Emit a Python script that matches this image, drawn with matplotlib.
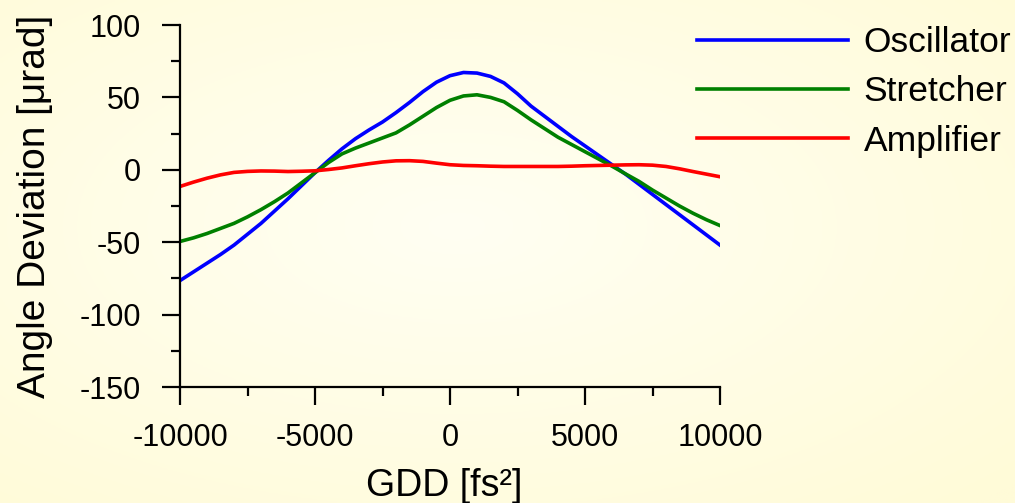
import numpy as np
import matplotlib
matplotlib.use("Agg")
import matplotlib.pyplot as plt
from matplotlib.ticker import MultipleLocator

plt.rcParams['font.family'] = ['Liberation Sans', 'DejaVu Sans']
plt.rcParams['axes.unicode_minus'] = False

# ---- data ----
gdd = list(range(-10000, 10001, 500))
oscillator = [-76.5, -70.5, -64.5, -58.5, -52, -44.5, -37, -28.5, -20, -11,
              -2, 6.5, 14.5, 21.5, 27.5, 33, 39.5, 46.5, 54, 60.5,
              65, 67.2, 66.8, 64.5, 60, 52.5, 44, 37, 30, 23,
              16.5, 10, 3.5, -3, -10, -17, -24, -31, -38, -45, -52]
stretcher = [-49.5, -47, -44, -40.5, -37, -32.5, -27.5, -22, -16, -9,
             -2, 5, 11, 15, 18.5, 22, 25.5, 31, 37, 43,
             48, 51, 51.8, 50, 47, 41, 34.5, 28.5, 22.5, 17.5,
             12.5, 7.5, 2.5, -2.8, -8, -14, -19.5, -25, -30, -34.5, -38.5]
amplifier = [-11.5, -8.5, -5.8, -3.5, -1.8, -1.1, -0.8, -0.9, -1.2, -1.0,
             -0.7, 0.2, 1.3, 2.8, 4.2, 5.4, 6.2, 6.3, 5.8, 4.6,
             3.5, 3.0, 2.8, 2.5, 2.3, 2.3, 2.3, 2.3, 2.3, 2.5,
             2.8, 3.0, 3.2, 3.4, 3.5, 3.2, 2.3, 0.7, -1.2, -3.0, -4.8]
series_names = ["Oscillator", "Stretcher", "Amplifier"]
series_colors = ["#0000FF", "#008000", "#FF0000"]

W, H = 1015, 503
fig = plt.figure(figsize=(W / 100, H / 100), dpi=100)

# background with a gentle vignette
bg = fig.add_axes([0, 0, 1, 1], zorder=-10)
yy, xx = np.mgrid[0:1:200j, 0:1:400j]
r = np.sqrt(((xx - 0.45) / 0.75) ** 2 + ((yy - 0.45) / 0.75) ** 2)
r = np.clip(r, 0, 1)
c0 = np.array([255, 255, 243]) / 255.0
c1 = np.array([255, 251, 216]) / 255.0
img = c0[None, None, :] * (1 - r[..., None]) + c1[None, None, :] * r[..., None]
bg.imshow(img, aspect='auto', extent=[0, 1, 0, 1], origin='upper')
bg.axis('off')

ax = fig.add_axes([180 / W, 1 - 387 / H, 540 / W, 362 / H])
ax.patch.set_alpha(0)

for vals, name, col in zip([oscillator, stretcher, amplifier], series_names, series_colors):
    ax.plot(gdd, vals, color=col, lw=2.6, label=name, solid_joinstyle='round')

ax.set_xlim(-10000, 10000)
ax.set_ylim(-150, 100)
ax.xaxis.set_major_locator(MultipleLocator(5000))
ax.xaxis.set_minor_locator(MultipleLocator(2500))
ax.yaxis.set_major_locator(MultipleLocator(50))
ax.yaxis.set_minor_locator(MultipleLocator(25))

for s in ['top', 'right']:
    ax.spines[s].set_visible(False)
for s in ['left', 'bottom']:
    ax.spines[s].set_linewidth(1.6)
    ax.spines[s].set_color('black')

ax.tick_params(axis='both', which='major', direction='out', length=13, width=1.6,
               labelsize=22, colors='black')
ax.tick_params(axis='both', which='minor', direction='out', length=6.5, width=1.6)
ax.tick_params(axis='y', which='major', pad=15)
ax.tick_params(axis='x', which='major', pad=13)

ax.set_xlabel("GDD [fs\u00b2]", fontsize=27)
ax.set_ylabel("Angle Deviation [\u03bcrad]", fontsize=28)
ax.xaxis.set_label_coords(0.489, -0.225)
ax.yaxis.set_label_coords(-0.235, 0.5)

leg = fig.legend(loc='upper left', bbox_to_anchor=(697 / W, 1 - 26 / H),
                 frameon=False, fontsize=25.5, handlelength=4.25,
                 handletextpad=0.46, labelspacing=0.46, borderpad=0,
                 borderaxespad=0)
for line in leg.get_lines():
    line.set_linewidth(2.6)

fig.savefig("out.png", dpi=100)
